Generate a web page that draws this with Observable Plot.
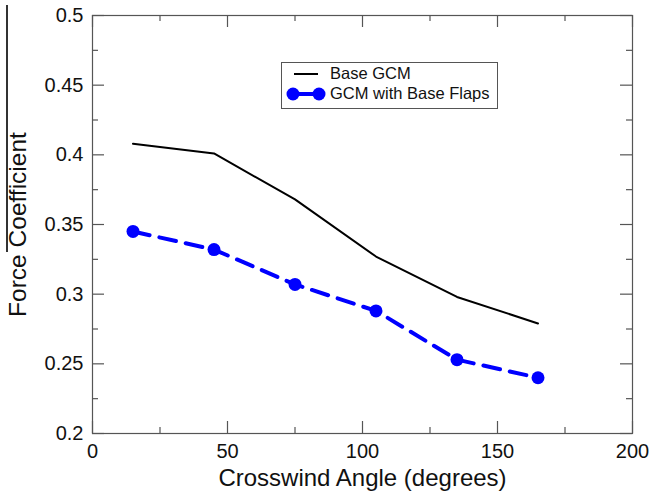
<!DOCTYPE html>
<html>
<head>
<meta charset="utf-8">
<script src="https://cdn.jsdelivr.net/npm/d3@7"></script>
<script src="https://cdn.jsdelivr.net/npm/@observablehq/plot@0.6"></script>
<style>
  html, body { margin: 0; padding: 0; background: #fff; }
  #wrap { position: relative; width: 653px; height: 502px; font-family: "Liberation Sans", Arial, Helvetica, sans-serif; }
  #edge { position: absolute; left: 6px; top: 5px; width: 1.5px; height: 247px; background: #333; }
  #legend { position: absolute; left: 281px; top: 62px; width: 217px; height: 47px; border: 1px solid #555; background: #fff; box-sizing: border-box; }
  #legend svg { position: absolute; left: 0; top: 0; }
  #legend .lbl { position: absolute; left: 48px; font-size: 16.5px; color: #111; white-space: nowrap; line-height: 18px; }
</style>
</head>
<body>
<div id="wrap">
  <div id="chart"></div>
  <div id="edge"></div>
  <div id="legend">
    <svg width="217" height="47">
      <line x1="12" y1="11" x2="36" y2="11" stroke="#000" stroke-width="2"/>
      <line x1="11" y1="31" x2="37" y2="31" stroke="#0000ff" stroke-width="4"/>
      <circle cx="11" cy="31" r="6.5" fill="#0000ff"/>
      <circle cx="37" cy="31" r="6.5" fill="#0000ff"/>
    </svg>
    <div class="lbl" style="top:1px">Base GCM</div>
    <div class="lbl" style="top:21px">GCM with Base Flaps</div>
  </div>
</div>
<script>
// ---- data ----
const angles = [15, 45, 75, 105, 135, 165];
const baseGCM = [0.408, 0.401, 0.368, 0.327, 0.298, 0.279];
const baseFlaps = [0.345, 0.332, 0.307, 0.288, 0.253, 0.240];

const xTicks = [0, 50, 100, 150, 200];
const xMinorTicks = [25, 75, 125, 175];
const yTicks = [0.2, 0.25, 0.3, 0.35, 0.4, 0.45, 0.5];
const yMinorTicks = [0.225, 0.275, 0.325, 0.375, 0.425, 0.475];

const xTitle = "Crosswind Angle (degrees)";
const yTitle = "Force Coefficient";

// ---- layout ----
const W = 653, H = 502;
const mT = 15, mB = 69, mL = 92, mR = 21;
const fh = H - mT - mB, fw = W - mL - mR;
const major = 12, minor = 6;
const axisColor = "#555";

const baseRows = angles.map((a, i) => ({angle: a, value: baseGCM[i]}));
const flapRows = angles.map((a, i) => ({angle: a, value: baseFlaps[i]}));

const chart = Plot.plot({
  width: W, height: H,
  marginTop: mT, marginBottom: mB, marginLeft: mL, marginRight: mR,
  style: {fontFamily: "'Liberation Sans', Arial, Helvetica, sans-serif", fontSize: "20px", color: "#111", background: "#fff"},
  x: {domain: [0, 200], label: null},
  y: {domain: [0.2, 0.5], label: null},
  marks: [
    Plot.frame({stroke: axisColor, strokeWidth: 1.2}),
    // inward ticks: bottom/top
    Plot.tickX(xTicks, {x: d => d, insetTop: fh - major, stroke: axisColor, strokeWidth: 1.2}),
    Plot.tickX(xTicks, {x: d => d, insetBottom: fh - major, stroke: axisColor, strokeWidth: 1.2}),
    Plot.tickX(xMinorTicks, {x: d => d, insetTop: fh - minor, stroke: axisColor, strokeWidth: 1.2}),
    Plot.tickX(xMinorTicks, {x: d => d, insetBottom: fh - minor, stroke: axisColor, strokeWidth: 1.2}),
    // inward ticks: left/right
    Plot.tickY(yTicks, {y: d => d, insetRight: fw - major, stroke: axisColor, strokeWidth: 1.2}),
    Plot.tickY(yTicks, {y: d => d, insetLeft: fw - major, stroke: axisColor, strokeWidth: 1.2}),
    Plot.tickY(yMinorTicks, {y: d => d, insetRight: fw - minor, stroke: axisColor, strokeWidth: 1.2}),
    Plot.tickY(yMinorTicks, {y: d => d, insetLeft: fw - minor, stroke: axisColor, strokeWidth: 1.2}),
    Plot.axisX({ticks: xTicks, tickSize: 0, tickPadding: 10, tickFormat: d => String(d), label: null}),
    Plot.axisY({ticks: yTicks, tickSize: 0, tickPadding: 9, tickFormat: d => String(d), label: null}),
    // series
    Plot.line(baseRows, {x: "angle", y: "value", stroke: "#000", strokeWidth: 2}),
    Plot.line(flapRows, {x: "angle", y: "value", stroke: "#0000ff", strokeWidth: 4, strokeDasharray: "17,10"}),
    Plot.dot(flapRows, {x: "angle", y: "value", r: 6.5, fill: "#0000ff", stroke: null}),
    // titles
    Plot.text([xTitle], {frameAnchor: "bottom", textAnchor: "middle", lineAnchor: "middle", dy: 45, fontSize: 24, fill: "#111"}),
    Plot.text([yTitle], {frameAnchor: "left", textAnchor: "middle", lineAnchor: "middle", rotate: -90, dx: -74, fontSize: 24.5, fill: "#111"})
  ]
});
document.getElementById("chart").appendChild(chart);
</script>
</body>
</html>
